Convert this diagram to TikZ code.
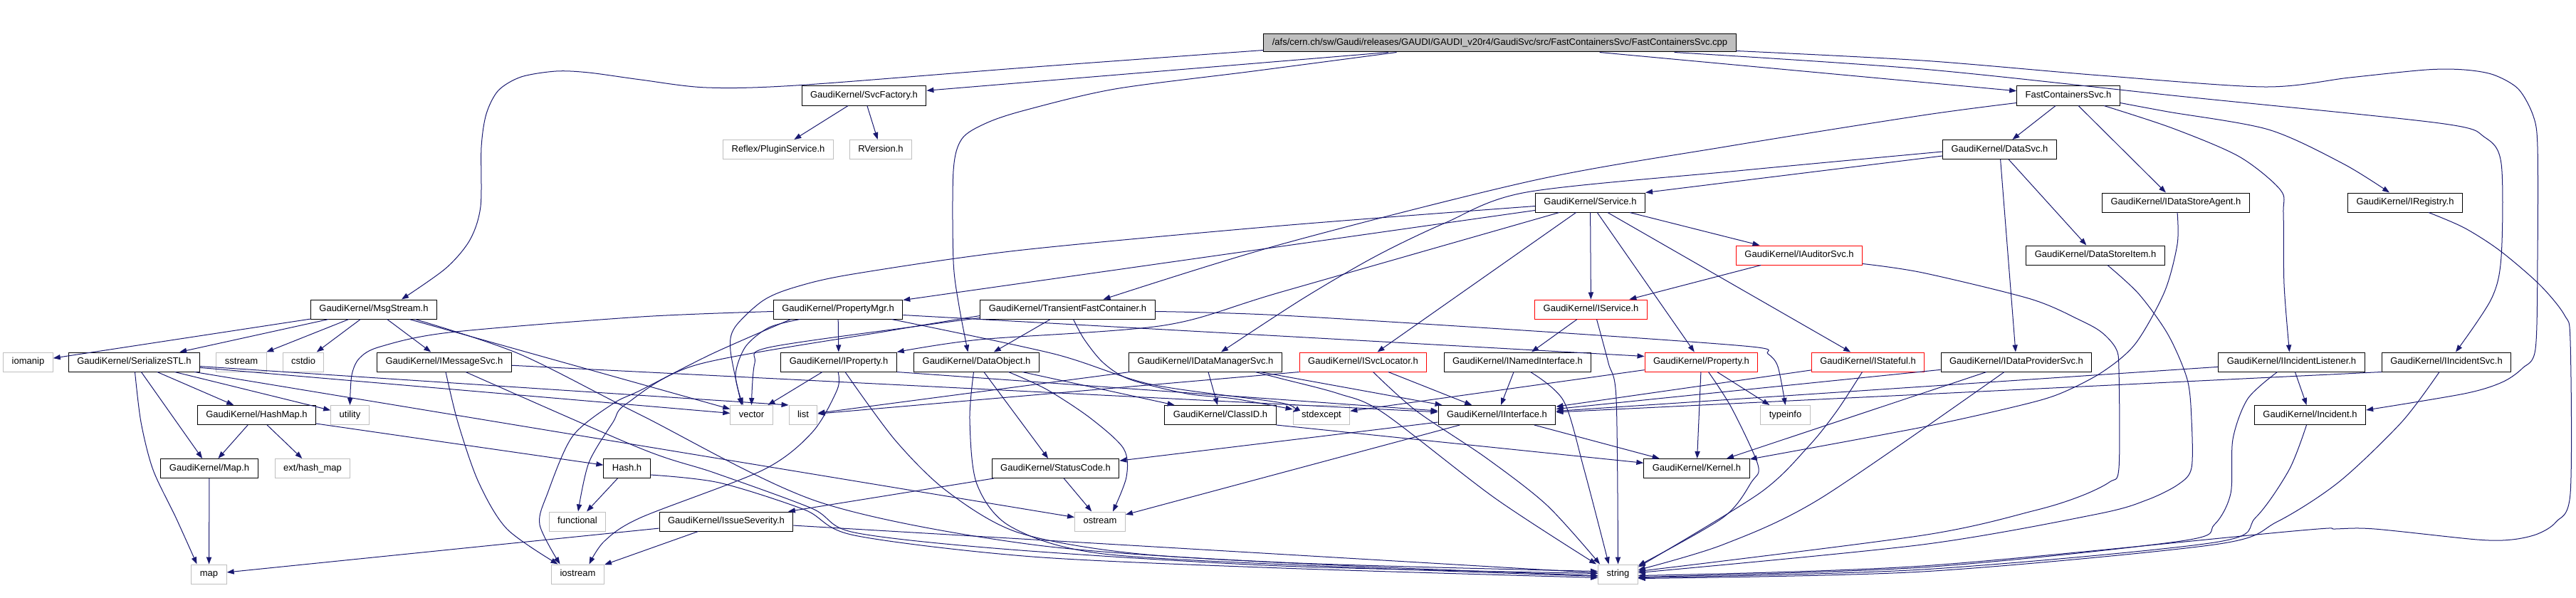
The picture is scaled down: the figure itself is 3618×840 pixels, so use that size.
\documentclass[tikz,border=0pt]{standalone}
\usepackage{fontspec}
\setmainfont{Liberation Sans}
\usetikzlibrary{arrows.meta,calc}

\definecolor{edgeblue}{RGB}{25,25,112}
\definecolor{boxgray}{RGB}{191,191,191}

\tikzset{
  hdr/.style={draw=black, line width=0.5pt, inner xsep=6pt, inner ysep=0pt,
    minimum height=13.5pt, text height=4.8pt, text depth=1.4pt,
    font=\fontsize{6.5}{7}\selectfont},
  sys/.style={hdr, draw=boxgray},
  trunc/.style={hdr, draw=red},
  srcfile/.style={hdr, fill=boxgray, minimum height=12.5pt},
  dep/.style={draw=edgeblue, line width=0.5pt, -{Triangle[length=5pt,width=3.6pt]}}
}

\newcommand{\incl}[2]{\foreach \src in {#1} {\foreach \tgt in {#2} {\draw[dep] (\src) -- (\tgt) ;}}}

\begin{document}
\begin{tikzpicture}[x=0.5pt, y=-0.5pt]
  \useasboundingbox (0,0) rectangle (3618,840) ;

  \node[srcfile] (root) at (2106.5,60.5) {/afs/cern.ch/sw/Gaudi/releases/GAUDI/GAUDI\_v20r4/GaudiSvc/src/FastContainersSvc/FastContainersSvc.cpp} ;
  \node[hdr] (svcFac) at (1213.5,134.5) {GaudiKernel/SvcFactory.h} ;
  \node[hdr] (fcs) at (2905,134.5) {FastContainersSvc.h} ;
  \node[sys] (plugin) at (1093,210) {Reflex/PluginService.h} ;
  \node[sys] (rver) at (1237,210) {RVersion.h} ;
  \node[hdr] (dataSvc) at (2808.5,210) {GaudiKernel/DataSvc.h} ;
  \node[hdr] (svc) at (2233.5,284.5) {GaudiKernel/Service.h} ;
  \node[hdr] (dsAgent) at (3056,284.5) {GaudiKernel/IDataStoreAgent.h} ;
  \node[hdr] (iReg) at (3378,284.5) {GaudiKernel/IRegistry.h} ;
  \node[trunc] (iAud) at (2527,358.5) {GaudiKernel/IAuditorSvc.h} ;
  \node[hdr] (dsItem) at (2943,358.5) {GaudiKernel/DataStoreItem.h} ;
  \node[hdr] (msg) at (525,434.5) {GaudiKernel/MsgStream.h} ;
  \node[hdr] (propMgr) at (1177,434.5) {GaudiKernel/PropertyMgr.h} ;
  \node[hdr] (tfc) at (1499.5,434.5) {GaudiKernel/TransientFastContainer.h} ;
  \node[trunc] (iSvc) at (2234.5,434.5) {GaudiKernel/IService.h} ;
  \node[sys] (iomanip) at (39.5,508.5) {iomanip} ;
  \node[hdr] (serial) at (188.5,508.5) {GaudiKernel/SerializeSTL.h} ;
  \node[sys] (sstream) at (339,508.5) {sstream} ;
  \node[sys] (cstdio) at (426,508.5) {cstdio} ;
  \node[hdr] (iMsg) at (624,508.5) {GaudiKernel/IMessageSvc.h} ;
  \node[hdr] (iProp) at (1178,508.5) {GaudiKernel/IProperty.h} ;
  \node[hdr] (dataObj) at (1371.5,508.5) {GaudiKernel/DataObject.h} ;
  \node[hdr] (iDataMgr) at (1693,508.5) {GaudiKernel/IDataManagerSvc.h} ;
  \node[trunc] (iSvcLoc) at (1914.5,508.5) {GaudiKernel/ISvcLocator.h} ;
  \node[hdr] (iNamed) at (2131.5,508.5) {GaudiKernel/INamedInterface.h} ;
  \node[trunc] (prop) at (2389.5,508.5) {GaudiKernel/Property.h} ;
  \node[trunc] (iStateful) at (2623.5,508.5) {GaudiKernel/IStateful.h} ;
  \node[hdr] (iDataProv) at (2832,508.5) {GaudiKernel/IDataProviderSvc.h} ;
  \node[hdr] (iIncL) at (3218.5,508.5) {GaudiKernel/IIncidentListener.h} ;
  \node[hdr] (iIncSvc) at (3436,508.5) {GaudiKernel/IIncidentSvc.h} ;
  \node[hdr] (hashMap) at (360.5,583) {GaudiKernel/HashMap.h} ;
  \node[sys] (utility) at (491.5,583) {utility} ;
  \node[sys] (vector) at (1055.5,583) {vector} ;
  \node[sys] (list) at (1128,583) {list} ;
  \node[hdr] (classID) at (1714,583) {GaudiKernel/ClassID.h} ;
  \node[sys] (stdexcept) at (1856,583) {stdexcept} ;
  \node[hdr] (iIf) at (2102.5,583) {GaudiKernel/IInterface.h} ;
  \node[sys] (typeinfo) at (2507.5,583) {typeinfo} ;
  \node[hdr] (incident) at (3244.5,583) {GaudiKernel/Incident.h} ;
  \node[hdr] (mapH) at (294,658) {GaudiKernel/Map.h} ;
  \node[sys] (extHash) at (439,658) {ext/hash\_map} ;
  \node[hdr] (hashH) at (880.5,658) {Hash.h} ;
  \node[hdr] (status) at (1482.5,658) {GaudiKernel/StatusCode.h} ;
  \node[hdr] (kernel) at (2383,658) {GaudiKernel/Kernel.h} ;
  \node[sys] (functional) at (811,732.5) {functional} ;
  \node[hdr] (issue) at (1020,732.5) {GaudiKernel/IssueSeverity.h} ;
  \node[sys] (ostream) at (1545,732.5) {ostream} ;
  \node[sys] (map) at (293.5,806.5) {map} ;
  \node[sys] (iostream) at (811.5,806.5) {iostream} ;
  \node[sys] (string) at (2272.5,806.5) {string} ;

  \incl {root} {svcFac,fcs} ;
  \incl {svcFac} {plugin,rver} ;
  \incl {fcs} {dataSvc,dsAgent} ;
  \incl {dataSvc} {iDataProv,dsItem} ;
  \incl {svc} {propMgr,iSvcLoc,iSvc,prop,iStateful,iAud} ;
  \incl {iAud} {iSvc} ;
  \incl {iSvc} {iNamed} ;
  \incl {msg} {iomanip,serial,sstream,cstdio,iMsg,vector} ;
  \incl {serial} {mapH,hashMap,utility,vector,ostream} ;
  \incl {hashMap} {mapH,extHash,hashH} ;
  \incl {mapH} {map} ;
  \incl {hashH} {functional} ;
  \incl {iMsg} {iIf} ;
  \incl {propMgr} {iProp} ;
  \incl {tfc} {dataObj} ;
  \incl {iProp} {vector} ;
  \incl {dataObj} {status,classID} ;
  \incl {iDataMgr} {classID,list,iIf} ;
  \incl {iSvcLoc,iNamed,iStateful,iDataProv,iIncL} {iIf} ;
  \incl {prop} {stdexcept,kernel,typeinfo} ;
  \incl {iDataProv,iIf} {kernel} ;
  \incl {iIncL} {incident} ;
  \incl {iIf} {ostream,status} ;
  \incl {status} {ostream,issue} ;
  \incl {issue} {map,iostream,string} ;
  \draw[dep] (serial) -- (list.north west) ;
  \draw[dep] (iProp.south east) -- (iIf) ;
  \draw[dep] (iSvcLoc.south west) -- (list) ;
  \draw[dep] (iIncSvc.south west) -- (iIf) ;
  \draw[dep] (classID.south east) -- (kernel) ;
  \draw[dep] ($(dataSvc.west)+(0,9)$) -- (svc.north east) ;
  \draw[dep] ($(propMgr.east)+(0,8)$) -- ($(prop.west)+(0,-8)$) ;

  \draw[dep] plot[smooth] coordinates {($(root.west)+(0,10)$) (1440,95) (1118,120) (992,123) (900,112) (827,102) (781,100) (732,108) (700,127) (683,160) (676,207) (675,290) (660,337) (626,377) ($(msg.north)+(39,0)$)} ;
  \draw[dep] plot[smooth] coordinates {($(root.south)+(-145,0)$) (1760,100) (1566,125) (1439,155) (1385,173) (1351,195) (1339,240) (1339,367) (1347,430) ($(dataObj.north)+(-12,0)$)} ;
  \draw[dep] plot[smooth] coordinates {($(root.south)+(245,0)$) (2700,97) (3060,135) (3426,173) (3490,193) (3513,230) (3513,360) (3499,420) ($(iIncSvc.north)+(13,0)$)} ;
  \draw[dep] plot[smooth] coordinates {($(root.east)+(0,11)$) (2700,85) (2950,106) (3180,122) (3300,109) (3408,98) (3461,98) (3502,105) (3537,125) (3558,163) (3564,207) (3564,360) (3561,490) (3543,517) (3514,537) (3461,553) ($(incident.east)+(0,-7)$)} ;
  \draw[dep] plot[smooth] coordinates {($(fcs.south)+(50,0)$) (3051,180) (3145,220) (3203,267) (3207,300) (3208,400) ($(iIncL.north)+(-3,0)$)} ;
  \draw[dep] plot[smooth] coordinates {($(fcs.east)+(0,10)$) (3045,157) (3186,182) (3291,230) ($(iReg.north)+(-22,0)$)} ;
  \draw[dep] plot[smooth] coordinates {($(fcs.west)+(0,10)$) (2700,162) (2430,205) (2156,253) (1800,343) ($(tfc.north)+(50,0)$)} ;
  \draw[dep] plot[smooth] coordinates {($(dataSvc.west)+(0,3)$) (2440,240) (2144,270) (2030,313) (1932,360) (1829,420) ($(iDataMgr.north)+(22,0)$)} ;
  \draw[dep] plot[smooth] coordinates {($(svc.west)+(0,5)$) (1800,317) (1428,352) (1198,385) (1118,403) (1072,422) (1032,460) (1026,493) ($(vector.north)+(-14,0)$)} ;
  \draw[dep] plot[smooth] coordinates {($(svc.south west)+(34,0)$) (1800,410) (1635,457) (1376,477) (iProp.north east)} ;
  \draw[dep] plot[smooth] coordinates {($(iAud.east)+(0,12)$) (2700,383) (2852,420) (2922,450) (2952,467) (2972,490) (2976,520) (2976,657) (2963,677) (2922,697) (2858,717) (2700,752) ($(string.east)+(0,-4)$)} ;
  \draw[dep] plot[smooth] coordinates {($(dsItem.south)+(17,0)$) (3004,413) (3045,470) (3072,533) (3078,590) (3078,657) (3060,680) (3016,702) (2946,722) (2700,765) ($(string.east)+(0,-2)$)} ;
  \draw[dep] plot[smooth] coordinates {($(dsAgent.south)+(2,0)$) (3058,343) (3040,410) (2999,483) (2952,523) (2893,553) (2835,570) (2700,600) ($(kernel.east)+(0,-13)$)} ;
  \draw[dep] plot[smooth] coordinates {($(iReg.south)+(33,0)$) (3461,320) (3511,352) (3567,400) (3602,443) (3610,480) (3610,693) (3590,733) (3564,750) (3528,758) (3479,758) (3335,743) (3280,743) (3221,746) (2700,795) ($(string.east)+(0,2)$)} ;
  \draw[dep] plot[smooth] coordinates {($(iIncL.south)+(-20,0)$) (3157,560) (3136,617) (3133,693) (3110,737) (3063,760) (2700,797) ($(string.east)+(0,4)$)} ;
  \draw[dep] plot[smooth] coordinates {($(incident.south)+(-5,0)$) (3215,660) (3168,727) (3110,762) (2700,800) ($(string.east)+(0,5)$)} ;
  \draw[dep] plot[smooth] coordinates {($(iIncSvc.south)+(-10,0)$) (3373,593) (3285,677) (3198,733) (3110,765) (2700,803) ($(string.east)+(0,6)$)} ;
  \draw[dep] plot[smooth] coordinates {($(iDataProv.south)+(-17,0)$) (2557,700) (2420,765) ($(string.east)+(0,-6)$)} ;
  \draw[dep] plot[smooth] coordinates {($(iStateful.south)+(-8,0)$) (2580,577) (2540,627) (2471,693) ($(string.north east)+(0,4)$)} ;
  \draw[dep] plot[smooth] coordinates {($(prop.south)+(10,0)$) (2432,573) (2469,653) (2460,677) (2420,727) ($(string.north east)+(0,2)$)} ;
  \draw[dep] plot[smooth] coordinates {($(iNamed.south)+(18,0)$) (2196,563) (2225,660) ($(string.north)+(-13,0)$)} ;
  \draw[dep] plot[smooth] coordinates {($(iSvcLoc.south)+(14,0)$) (1989,577) (2087,643) (2173,710) ($(string.north west)+(3,0)$)} ;
  \draw[dep] plot[smooth] coordinates {($(iSvc.south)+(8,0)$) (2259,510) (2270,560) (string.north)} ;
  \draw[dep] plot[smooth] coordinates {($(iDataMgr.south)+(70,0)$) (1800,532) (1880,553) (1943,580) (2100,700) ($(string.north west)+(-2,0)$)} ;
  \draw[dep] plot[smooth] coordinates {($(msg.south east)+(-31,0)$) (729,497) (900,583) (1150,705) (1450,765) (1800,790) ($(string.west)+(0,-4)$)} ;
  \draw[dep] plot[smooth] coordinates {($(iMsg.south)+(30,0)$) (900,630) (1003,664) (1140,714) (1200,748) (1420,772) (1800,795) ($(string.west)+(0,-1)$)} ;
  \draw[dep] plot[smooth] coordinates {($(iProp.south)+(9,0)$) (1257,618) (1330,690) (1430,748) (1600,778) (1900,795) ($(string.west)+(0,2)$)} ;
  \draw[dep] plot[smooth] coordinates {($(dataObj.south)+(-4,0)$) (1362,590) (1372,680) (1420,740) (1550,778) (1900,797) ($(string.west)+(0,3)$)} ;
  \draw[dep] plot[smooth] coordinates {($(hashH.east)+(0,9)$) (1010,678) (1130,716) (1200,752) (1450,782) (1800,798) ($(string.west)+(0,5)$)} ;
  \draw[dep] plot[smooth] coordinates {($(serial.south)+(1,0)$) (198,593) (215,660) (247,727) ($(map.north)+(-17,0)$)} ;
  \draw[dep] plot[smooth] coordinates {($(iMsg.south)+(2,0)$) (643,593) (672,677) (712,743) ($(iostream.north)+(-28,0)$)} ;
  \draw[dep] plot[smooth] coordinates {($(propMgr.west)+(0,3)$) (900,445) (631,467) (534,487) (505,503) (494,527) (utility.north)} ;
  \draw[dep] plot[smooth] coordinates {($(propMgr.south west)+(25,0)$) (1000,497) (900,548) (861,567) (804,613) (769,693) (758,737) ($(iostream.north)+(-25,0)$)} ;
  \draw[dep] plot[smooth] coordinates {($(propMgr.south west)+(38,0)$) (1080,460) (1047,487) (1033,527) ($(vector.north)+(-12,0)$)} ;
  \draw[dep] plot[smooth] coordinates {($(tfc.west)+(0,12)$) (1297,457) (1080,488) (1060,510) (vector.north)} ;
  \draw[dep] plot[smooth] coordinates {($(tfc.west)+(0,9)$) (1247,465) (980,512) (880,567) (861,593) (827,650) ($(functional.north)+(1,0)$)} ;
  \draw[dep] plot[smooth] coordinates {($(tfc.south)+(8,0)$) (1523,477) (1550,510) (1587,533) (1667,553) (1733,560) ($(stdexcept.west)+(0,-8)$)} ;
  \draw[dep] plot[smooth] coordinates {($(tfc.east)+(0,3)$) (1800,443) (2200,468) (2460,487) (2483,497) (2497,515) (typeinfo.north)} ;
  \draw[dep] plot[smooth] coordinates {($(propMgr.south east)+(-16,0)$) (1480,497) (1617,540) (1800,566) ($(stdexcept.west)+(0,-4)$)} ;
  \draw[dep] plot[smooth] coordinates {($(dataObj.south)+(45,0)$) (1470,547) (1531,587) (1578,630) (1582,670) ($(ostream.north)+(18,0)$)} ;
  \draw[dep] plot[smooth] coordinates {($(iProp.south)+(-1,0)$) (1176,547) (1141,607) (1072,660) (900,727) (849,760) ($(iostream.north)+(16,0)$)} ;
\end{tikzpicture}
\end{document}
